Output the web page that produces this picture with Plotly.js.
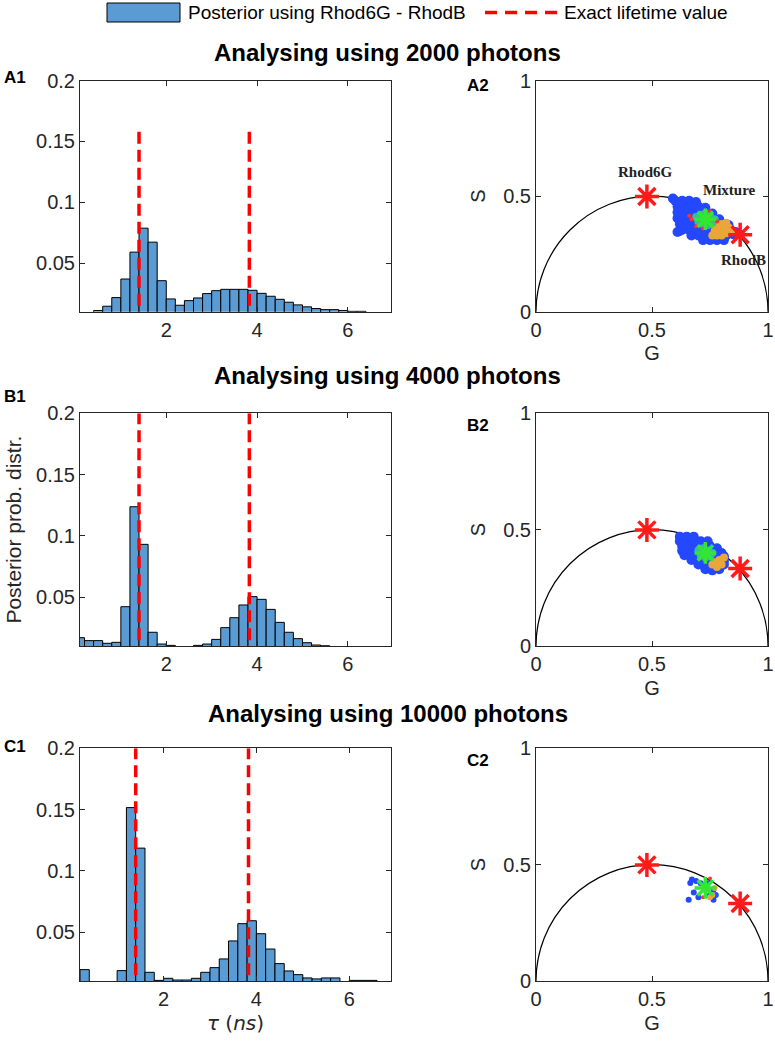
<!DOCTYPE html>
<html><head><meta charset="utf-8">
<script src="https://cdn.plot.ly/plotly-3.0.1.min.js"></script>
<style>html,body{margin:0;padding:0;background:#fff}#chart{width:775px;height:1050px}</style>
</head><body><div id="chart"></div>
<script>
// ---------- data ----------
const tauBins = [0.1,0.3,0.5,0.7,0.9,1.1,1.3,1.5,1.7,1.9,2.1,2.3,2.5,2.7,2.9,3.1,3.3,3.5,3.7,3.9,4.1,4.3,4.5,4.7,4.9,5.1,5.3,5.5,5.7,5.9,6.1,6.3,6.5];
const post2000 = [null,null,0.011,0.0145,0.0216,0.0369,0.059,0.0787,0.0672,0.0355,0.0205,0.0153,0.0191,0.0213,0.0249,0.0273,0.0284,0.0284,0.0284,0.0276,0.0251,0.0227,0.0202,0.0178,0.0156,0.014,0.0126,0.0117,0.0117,0.011,0.0103,0.0103,null];
const post4000 = [0.0168,0.0144,0.0144,0.0122,0.013,0.0421,0.1237,0.093,0.0212,0.0116,0.0105,null,null,0.0105,0.0116,0.0154,0.025,0.0331,0.0435,0.0503,0.0481,0.0399,0.0293,0.0212,0.016,0.0127,0.0108,0.0102,null,null,null,null,null];
const post10000 = [null,0.0193,null,null,null,0.0185,0.1516,0.1185,0.0171,0.0105,0.0122,0.0108,0.0108,0.0122,0.0171,0.0209,0.028,0.0427,0.0568,0.0592,0.0486,0.0361,0.0242,0.0182,0.0152,0.0125,0.0117,0.0125,0.0125,null,0.0105,0.0105,0.0105];
const exactTau = [1.4, 3.83];
const exactLineTop = [0.16, 0.2, 0.2];
const photonCounts = ['2000','4000','10000'];

// phasor reference dyes (G, S)
const refG = [0.478, 0.88];
const refS = [0.499, 0.333];
const refNames = ['Rhod6G','RhodB'];
const mixG = 0.73, mixS = 0.40;

// point clouds (G, S)
const a2BlueG = [0.59,0.60,0.63,0.66,0.69, 0.61,0.64,0.67,0.70,0.73, 0.61,0.64,0.67,0.70,0.73,0.76, 0.61,0.64,0.67,0.70,0.73,0.76,0.79, 0.62,0.65,0.68,0.71,0.74,0.77,0.80,0.83, 0.62,0.63,0.66,0.69,0.72,0.75,0.78,0.81,0.84, 0.67,0.70,0.73,0.76,0.79,0.82,0.85, 0.72,0.75,0.78,0.81, 0.61,0.86];
const a2BlueS = [0.49,0.48,0.48,0.48,0.475, 0.455,0.455,0.455,0.455,0.45, 0.43,0.43,0.43,0.43,0.43,0.425, 0.405,0.405,0.405,0.405,0.405,0.405,0.40, 0.38,0.38,0.38,0.38,0.38,0.38,0.38,0.375, 0.35,0.355,0.355,0.355,0.355,0.355,0.355,0.355,0.35, 0.33,0.33,0.33,0.33,0.33,0.33,0.335, 0.31,0.31,0.31,0.31, 0.345,0.345];
const a2OrangeG = [0.76,0.78,0.80,0.82,0.84,0.77,0.79,0.81,0.83,0.78,0.80,0.82];
const a2OrangeS = [0.33,0.33,0.33,0.34,0.345,0.35,0.355,0.36,0.365,0.375,0.38,0.385];
const a2CyanG = [0.69,0.71,0.73,0.75,0.77,0.70,0.72,0.74,0.76,0.71,0.73,0.75];
const a2CyanS = [0.41,0.42,0.425,0.415,0.40,0.39,0.38,0.375,0.385,0.40,0.41,0.395];
const a2RedG = [0.67,0.69,0.75,0.78,0.72,0.66];
const a2RedS = [0.40,0.37,0.435,0.39,0.36,0.415];

const b2BlueG = [0.62,0.65,0.68, 0.62,0.65,0.68,0.71,0.74, 0.63,0.66,0.69,0.72,0.75,0.78, 0.63,0.66,0.69,0.72,0.75,0.78,0.80, 0.64,0.67,0.70,0.73,0.76,0.79,0.81, 0.67,0.70,0.73,0.76,0.79,0.81, 0.70,0.73,0.76,0.79,0.81, 0.73,0.76,0.79];
const b2BlueS = [0.47,0.47,0.47, 0.45,0.45,0.45,0.45,0.45, 0.43,0.43,0.43,0.43,0.43,0.42, 0.41,0.41,0.41,0.41,0.41,0.41,0.40, 0.39,0.39,0.39,0.39,0.39,0.39,0.385, 0.37,0.37,0.37,0.37,0.37,0.365, 0.35,0.35,0.35,0.35,0.35, 0.33,0.325,0.33];
const b2OrangeG = [0.76,0.77,0.78,0.79,0.80,0.81];
const b2OrangeS = [0.35,0.36,0.34,0.37,0.35,0.38];
const b2CyanG = [0.70,0.72,0.74,0.76,0.71,0.73,0.75];
const b2CyanS = [0.41,0.42,0.41,0.40,0.39,0.38,0.385];

const c2BlueG = [0.665,0.658,0.765,0.765,0.672,0.69,0.70,0.68,0.75,0.74,0.71,0.775];
const c2BlueS = [0.421,0.349,0.392,0.349,0.436,0.43,0.36,0.38,0.37,0.42,0.42,0.37];
const c2OrangeG = [0.76,0.75,0.77];
const c2OrangeS = [0.37,0.36,0.40];
const c2RedG = [0.75,0.72];
const c2RedS = [0.44,0.36];

// ---------- styling ----------
const FONT = 'Liberation Sans, Arial, Helvetica, sans-serif';
const AX = '#262626';
const barFill = '#5b9bd3';
const W = 775, H = 1050;
const px = v => v / W;
const py = v => 1 - v / H;

const histX = [px(80), px(391)];
const phX = [px(536), px(768)];
const rows = [[py(311.7), py(80.7)], [py(646), py(413.3)], [py(981), py(748.3)]];
const xRanges = [[0.1, 6.95], [0.1, 6.95], [0.2, 6.9]];
const histData = [post2000, post4000, post10000];
const blues = [[a2BlueG,a2BlueS],[b2BlueG,b2BlueS],[c2BlueG,c2BlueS]];
const oranges = [[a2OrangeG,a2OrangeS],[b2OrangeG,b2OrangeS],[c2OrangeG,c2OrangeS]];
const cyans = [[a2CyanG,a2CyanS],[b2CyanG,b2CyanS],[[],[]]];
const reds = [[a2RedG,a2RedS],[[],[]],[c2RedG,c2RedS]];

const traces = [];
const layout = {
  width: W, height: H, margin: {l:0,r:0,t:0,b:0},
  paper_bgcolor: '#fff', plot_bgcolor: '#fff',
  showlegend: false, font: {family: FONT, color: AX},
  bargap: 0, shapes: [], annotations: []
};

function baseAxis(extra) {
  return Object.assign({
    showline: true, mirror: 'ticks', linecolor: AX, linewidth: 1,
    ticks: 'inside', ticklen: 5, tickcolor: AX, showgrid: false, zeroline: false,
    tickfont: {family: FONT, size: 20, color: AX}, fixedrange: true
  }, extra);
}

for (let r = 0; r < 3; r++) {
  const hx = 'x' + (2*r+1), hy = 'y' + (2*r+1);
  const fx = 'x' + (2*r+2), fy = 'y' + (2*r+2);
  const hxName = 'xaxis' + (2*r+1), hyName = 'yaxis' + (2*r+1);
  const fxName = 'xaxis' + (2*r+2), fyName = 'yaxis' + (2*r+2);

  traces.push({type:'bar', x: tauBins, y: histData[r], xaxis: hx, yaxis: hy, width: 0.2,
    marker: {color: barFill, line: {color: '#000', width: 1}}, name: 'Posterior using Rhod6G - RhodB', hoverinfo: 'x+y'});
  exactTau.forEach(t => traces.push({type:'scatter', mode:'lines', x:[t,t], y:[0, exactLineTop[r]], xaxis: hx, yaxis: hy,
    line: {color: '#ff0000', width: 3.5, dash: '12px,6px'}, name: 'Exact lifetime value'}));

  layout[hxName] = baseAxis({domain: histX, anchor: hy, range: xRanges[r], tickvals: [2,4,6], ticktext: ['2','4','6']});
  layout[hyName] = baseAxis({domain: rows[r], anchor: hx, range: [0.01, 0.2], tickvals: [0.05,0.1,0.15,0.2], ticktext: ['0.05','0.1','0.15','0.2']});
  if (r === 1) layout[hyName].title = {text: 'Posterior prob. distr.', font: {family: FONT, size: 21, color: AX}, standoff: 8};
  if (r === 2) layout[hxName].title = {text: '<i>τ</i> (<i>ns</i>)', font: {family: 'DejaVu Sans, ' + FONT, size: 20, color: AX}, standoff: 6};

  // phasor
  layout.shapes.push({type:'circle', xref: fx, yref: fy, x0: 0, x1: 1, y0: -0.5, y1: 0.5, line: {color:'#000', width: 1.2}, layer: 'below'});
  traces.push({type:'scatter', mode:'markers', x: blues[r][0], y: blues[r][1], xaxis: fx, yaxis: fy,
    marker: {color: '#2448ff', size: r === 2 ? 6 : 10, line: {width: 0}}, hoverinfo: 'x+y'});
  traces.push({type:'scatter', mode:'markers', x: oranges[r][0], y: oranges[r][1], xaxis: fx, yaxis: fy,
    marker: {color: '#eaa63a', size: r === 2 ? 6 : 8, line: {width: 0}}, hoverinfo: 'x+y'});
  traces.push({type:'scatter', mode:'markers', x: cyans[r][0], y: cyans[r][1], xaxis: fx, yaxis: fy,
    marker: {color: '#3fb8a0', size: 8, line: {width: 0}}, hoverinfo: 'x+y'});
  traces.push({type:'scatter', mode:'markers', x: reds[r][0], y: reds[r][1], xaxis: fx, yaxis: fy,
    marker: {color: '#ff3030', size: 4, line: {width: 0}}, hoverinfo: 'x+y'});
  traces.push({type:'scatter', mode:'markers', x: [mixG], y: [mixS], xaxis: fx, yaxis: fy,
    marker: {symbol: 'asterisk-open', color: '#33e633', size: 18, line: {color: '#33e633', width: 3.5}}, name: 'Mixture'});
  traces.push({type:'scatter', mode:'markers', x: refG, y: refS, xaxis: fx, yaxis: fy,
    marker: {symbol: 'asterisk-open', color: '#ff1a1a', size: 20, line: {color: '#ff1a1a', width: 3.5}}, text: refNames, hoverinfo: 'text'});

  layout[fxName] = baseAxis({domain: phX, anchor: fy, range: [0, 1], tickvals: [0,0.5,1], ticktext: ['0','0.5','1'],
    title: {text: 'G', font: {family: FONT, size: 20, color: AX}, standoff: 6}});
  layout[fyName] = baseAxis({domain: rows[r], anchor: fx, range: [0, 1], tickvals: [0,0.5,1], ticktext: ['0','0.5','1'],
    title: {text: 'S', font: {family: FONT, size: 20, color: AX}, standoff: 12}});

  // section title
  const titleY = [52, 376, 713][r];
  layout.annotations.push({xref:'paper', yref:'paper', x: 0.5, y: py(titleY), xanchor:'center', yanchor:'middle', showarrow:false,
    text: '<b>Analysing using ' + photonCounts[r] + ' photons</b>', font: {family: FONT, size: 24, color: '#000'}});
  // panel labels
  const lbl = ['A','B','C'][r];
  const ly1 = [77, 397, 746][r], ly2 = [85, 425, 760][r];
  layout.annotations.push({xref:'paper', yref:'paper', x: px(2), y: py(ly1), xanchor:'left', yanchor:'middle', showarrow:false,
    text: '<b>' + lbl + '1</b>', font: {family: FONT, size: 17, color: '#000'}});
  layout.annotations.push({xref:'paper', yref:'paper', x: px(465), y: py(ly2), xanchor:'left', yanchor:'middle', showarrow:false,
    text: '<b>' + lbl + '2</b>', font: {family: FONT, size: 17, color: '#000'}});
}

// phasor labels in A2
const dyeLabelG = [0.47, 0.836, 0.893];
const dyeLabelS = [0.603, 0.527, 0.224];
const dyeLabels = ['Rhod6G', 'Mixture', 'RhodB'];
dyeLabels.forEach((t, i) => layout.annotations.push({xref:'x2', yref:'y2', x: dyeLabelG[i], y: dyeLabelS[i], showarrow:false,
  text: '<b>' + t + '</b>', font: {family: 'Liberation Serif, Times New Roman, serif', size: 15, color: '#222'}}));

// legend (drawn manually)
layout.shapes.push({type:'rect', xref:'paper', yref:'paper', x0: px(107), x1: px(180), y0: py(22), y1: py(3), fillcolor: barFill, line: {color:'#000', width: 1}});
layout.shapes.push({type:'line', xref:'paper', yref:'paper', x0: px(485), x1: px(557), y0: py(12.5), y1: py(12.5), line: {color:'#ff0000', width: 3.5, dash: '12px,8px'}});
layout.annotations.push({xref:'paper', yref:'paper', x: px(186), y: py(12.5), xanchor:'left', yanchor:'middle', showarrow:false,
  text: 'Posterior using Rhod6G - RhodB', font: {family: FONT, size: 19, color: '#000'}});
layout.annotations.push({xref:'paper', yref:'paper', x: px(562), y: py(12.5), xanchor:'left', yanchor:'middle', showarrow:false,
  text: 'Exact lifetime value', font: {family: FONT, size: 19, color: '#000'}});

Plotly.newPlot('chart', traces, layout, {staticPlot: true, displayModeBar: false});
</script>
</body></html>
